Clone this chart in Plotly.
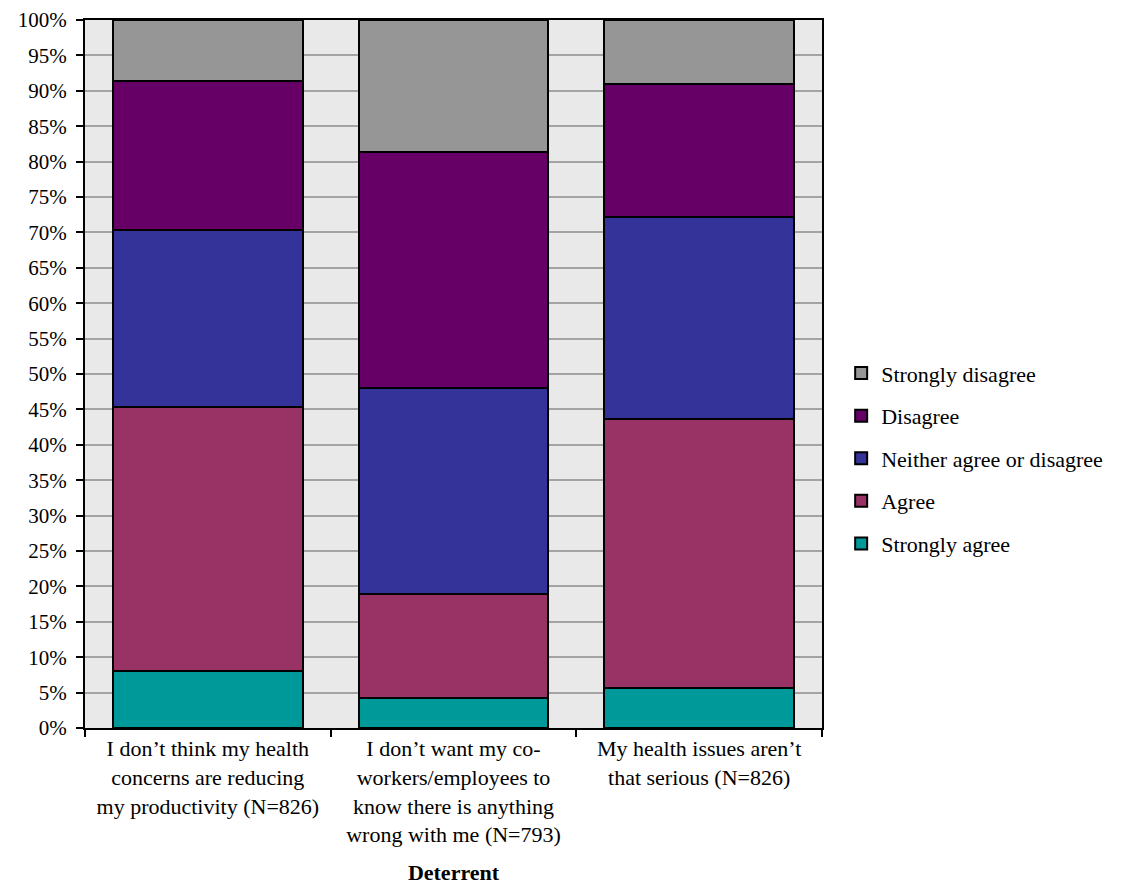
import plotly.graph_objects as go

categories = [
    "I don’t think my health<br>concerns are reducing<br>my productivity (N=826)",
    "I don’t want my co-<br>workers/employees to<br>know there is anything<br>wrong with me (N=793)",
    "My health issues aren’t<br>that serious (N=826)",
]
series_names = ["Strongly agree", "Agree", "Neither agree or disagree", "Disagree", "Strongly disagree"]
strongly_agree = [8.1, 4.2, 5.7]
agree = [37.3, 14.7, 37.9]
neither = [24.9, 29.1, 28.6]
disagree = [21.1, 33.3, 18.8]
strongly_disagree = [8.6, 18.7, 9.0]
series_values = [strongly_agree, agree, neither, disagree, strongly_disagree]
colors = ["#009999", "#993366", "#333399", "#660066", "#969696"]
y_ticks = list(range(0, 101, 5))
y_tick_labels = [f"{v}%" for v in y_ticks]

font = "Liberation Serif"

fig = go.Figure()
n = len(series_names)
for i, (name, vals, col) in enumerate(zip(series_names, series_values, colors)):
    fig.add_trace(go.Bar(
        x=categories, y=vals, name=name, legendgroup=name, legendrank=n - i,
        marker=dict(color=col, line=dict(color="black", width=2)),
    ))

# page body has an 8px default margin; size the figure to fit the window
fig.update_layout(
    width=1121, height=885,
    barmode="stack", bargap=0.227,
    paper_bgcolor="white", plot_bgcolor="#E9E9E9",
    margin=dict(l=77, r=307, t=12, b=165),
    font=dict(family=font, size=19, color="black"),
    showlegend=True,
    legend=dict(
        traceorder="grouped", tracegroupgap=11,
        x=1.026, xanchor="left", y=0.381, yanchor="middle",
        font=dict(family=font, size=22, color="black"),
        itemwidth=30, bgcolor="rgba(0,0,0,0)",
    ),
)
fig.update_xaxes(
    type="category", tickson="boundaries", ticks="outside", ticklen=7,
    tickwidth=2, tickcolor="black", showline=True, linecolor="black", linewidth=2,
    mirror=True, tickfont=dict(family=font, size=22), automargin=False,
    title=dict(text="<b>Deterrent</b>", font=dict(family=font, size=22), standoff=18),
    showgrid=False,
)
fig.update_yaxes(
    range=[0, 100], tickvals=y_ticks, ticktext=y_tick_labels,
    ticks="outside", ticklen=7, tickwidth=2, tickcolor="black",
    showline=True, linecolor="black", linewidth=2, mirror=True,
    showgrid=True, gridcolor="#A3A3A3", gridwidth=1.5, automargin=False,
    tickfont=dict(family=font, size=21), zeroline=False, ticklabelstandoff=5,
)

fig.write_html("out.html")
